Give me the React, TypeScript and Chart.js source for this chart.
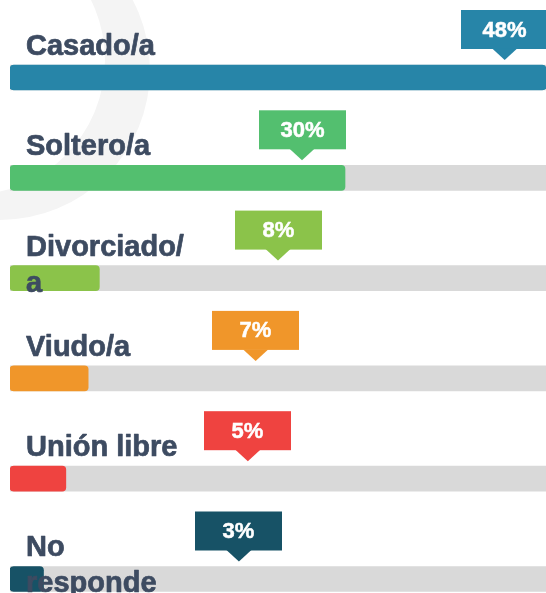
import React, { useEffect, useRef } from "react";
import { Chart, registerables } from "chart.js";

Chart.register(...registerables);

// ---- data ----
const categories = ["Casado/a", "Soltero/a", "Divorciado/a", "Viudo/a", "Unión libre", "No responde"];
const values = [48, 30, 8, 7, 5, 3];
const valueLabels = ["48%", "30%", "8%", "7%", "5%", "3%"];
const barColors = ["#2785a8", "#53bf6f", "#8bc34a", "#f0962a", "#ef4340", "#175266"];
// where each callout pointer sits, in axis units
const calloutAnchors = [44.3, 26.15, 24.0, 22.0, 21.3, 20.5];
const axisMax = 48;

const FONT = '"Liberation Sans", Arial, Helvetica, sans-serif';
const LABEL_COLOR = "#3d4b61";
const TRACK_COLOR = "#d9d9d9";

function wrapText(ctx: CanvasRenderingContext2D, text: string, maxWidth: number): string[] {
  const tokens = text.match(/[^ \/]+[ \/]?/g) || [text];
  const lines: string[] = [];
  let cur = "";
  for (const t of tokens) {
    const test = cur + t;
    if (cur && ctx.measureText(test.trimEnd()).width > maxWidth) {
      lines.push(cur.trimEnd());
      cur = t;
    } else {
      cur = test;
    }
  }
  if (cur) lines.push(cur.trimEnd());
  return lines;
}

const overlayPlugin = {
  id: "overlay",
  beforeDatasetsDraw(chart: any) {
    const { ctx, width, height } = chart;
    ctx.save();
    ctx.beginPath();
    ctx.arc(0, 70, 150, 0, Math.PI * 2);
    ctx.clip();
    ctx.beginPath();
    ctx.rect(0, 0, width, height);
    ctx.arc(-30, 60, 135, 0, Math.PI * 2);
    ctx.fillStyle = "#f4f4f4";
    ctx.fill("evenodd");
    ctx.restore();
  },
  afterDatasetsDraw(chart: any) {
    const { ctx, chartArea } = chart;
    const xs = chart.scales.x;
    const meta = chart.getDatasetMeta(0);
    meta.data.forEach((bar: any, i: number) => {
      const { y, height } = bar.getProps(["y", "height"], true);
      const top = y - height / 2;

      // category label
      ctx.save();
      ctx.font = `bold 29px ${FONT}`;
      ctx.fillStyle = LABEL_COLOR;
      ctx.strokeStyle = LABEL_COLOR;
      ctx.lineWidth = 0.7;
      ctx.lineJoin = "round";
      ctx.textAlign = "left";
      ctx.textBaseline = "alphabetic";
      const lines = wrapText(ctx, categories[i], 170);
      lines.forEach((ln, k) => {
        const lx = chartArea.left + 16;
        const ly = top - 10 + k * 36;
        ctx.fillText(ln, lx, ly);
        ctx.strokeText(ln, lx, ly);
      });
      ctx.restore();

      // callout
      const cx = xs.getPixelForValue(calloutAnchors[i]);
      const boxW = 87;
      const boxH = 39;
      const boxBottom = top - 16;
      const boxTop = boxBottom - boxH;
      ctx.save();
      ctx.fillStyle = barColors[i];
      ctx.fillRect(Math.round(cx - boxW / 2), boxTop, boxW, boxH);
      ctx.beginPath();
      ctx.moveTo(cx - 12.5, boxBottom - 0.5);
      ctx.lineTo(cx + 12.5, boxBottom - 0.5);
      ctx.lineTo(cx, top - 5);
      ctx.closePath();
      ctx.fill();
      ctx.font = `bold 22px ${FONT}`;
      ctx.fillStyle = "#ffffff";
      ctx.strokeStyle = "#ffffff";
      ctx.lineWidth = 0.5;
      ctx.textAlign = "center";
      ctx.textBaseline = "middle";
      const tx = Math.round(cx - boxW / 2) + boxW / 2;
      const ty = boxTop + boxH / 2 + 1;
      ctx.fillText(valueLabels[i], tx, ty);
      ctx.strokeText(valueLabels[i], tx, ty);
      ctx.restore();
    });
  },
};

export default function App() {
  const canvasRef = useRef<HTMLCanvasElement | null>(null);

  useEffect(() => {
    document.body.style.margin = "0";
    const canvas = canvasRef.current;
    if (!canvas) return;
    const rows = categories.map((_, i) => i);
    const chart = new Chart(canvas, {
      type: "bar",
      data: {
        datasets: [
          {
            label: "valor",
            data: rows.map((r) => ({ x: values[r], y: r })),
            backgroundColor: barColors,
            borderRadius: 4,
            borderSkipped: false,
            barThickness: 25,
            grouped: false,
          },
          {
            label: "fondo",
            data: rows.map((r) => ({ x: axisMax, y: r })),
            backgroundColor: TRACK_COLOR,
            borderRadius: 0,
            borderSkipped: false,
            barThickness: 25,
            grouped: false,
          },
        ],
      },
      options: {
        indexAxis: "y",
        animation: false,
        responsive: false,
        maintainAspectRatio: false,
        layout: { padding: { left: 10, right: 0, top: 0, bottom: 0 } },
        scales: {
          x: { type: "linear", min: 0, max: axisMax, offset: false, display: false, grid: { display: false } },
          y: { type: "linear", min: -0.7727, max: 5.1396, reverse: true, offset: false, display: false, grid: { display: false } },
        },
        plugins: {
          legend: { display: false },
          tooltip: { enabled: false },
        },
      } as any,
      plugins: [overlayPlugin],
    });
    return () => chart.destroy();
  }, []);

  return (
    <div style={{ position: "fixed", left: 0, top: 0, width: 546, height: 593, background: "#fff" }}>
      <canvas ref={canvasRef} width={546} height={593} style={{ display: "block" }} />
    </div>
  );
}
